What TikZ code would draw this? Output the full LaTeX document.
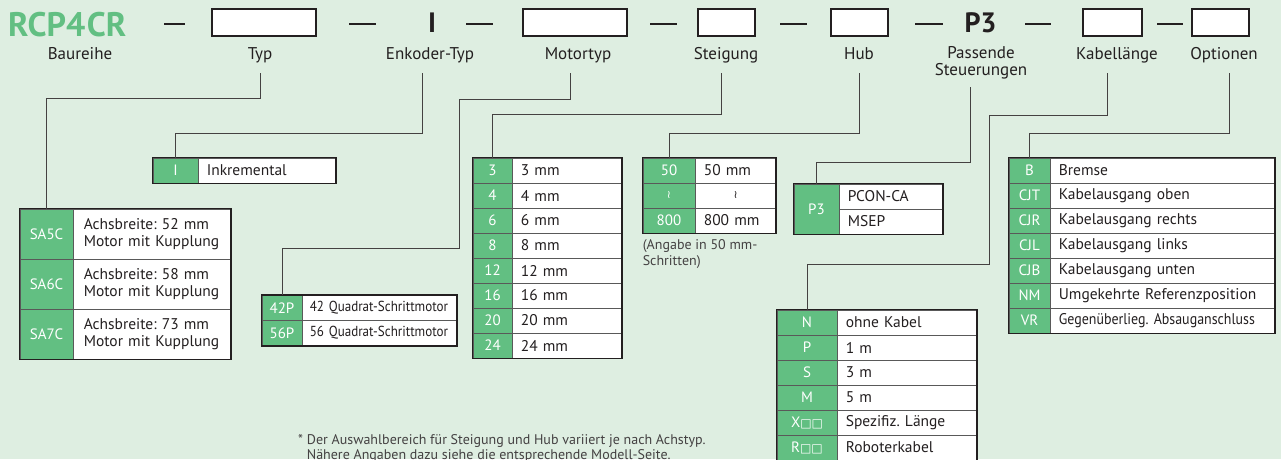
\documentclass[tikz,border=0pt]{standalone}
\usepackage{fontspec}
\setmainfont{PT Sans}
\newfontfamily\symfont{DejaVu Sans}
\newfontfamily\narrowfont[FakeStretch=0.9]{PT Sans}
\usetikzlibrary{positioning,calc}
\definecolor{bground}{RGB}{222,238,225}
\definecolor{codegreen}{RGB}{98,191,130}
\definecolor{textdark}{RGB}{35,31,32}
\newcommand{\twoboxes}{{\symfont\fontsize{12}{12}\selectfont □□}}
\frenchspacing

\tikzset{
  series/.style={font=\fontsize{34}{34}\selectfont\bfseries, text=codegreen, inner sep=0},
  fixcode/.style={font=\fontsize{28}{28}\selectfont\bfseries, text=textdark, inner sep=0},
  hdrbox/.style={draw=textdark, line width=1.2pt, fill=white, minimum width=#1, minimum height=27, inner sep=0},
  hdrdash/.style={draw=textdark, line width=1.2pt},
  hdrlbl/.style={font=\fontsize{17}{17}\selectfont, text=textdark, align=center, inner sep=0, anchor=base},
  gcell/.style={draw=black!65, line width=0.8pt, fill=codegreen, text=white, font=\fontsize{15}{17}\selectfont, minimum width=#1, minimum height=25, inner sep=0},
  wcell/.style={draw=black!65, line width=0.8pt, fill=white, text=textdark, font=\fontsize{15.5}{17}\selectfont, minimum height=25, text width=#1, align=left, inner xsep=8pt, inner ysep=0, anchor=west},
  frame/.style={draw=textdark, line width=1.5pt},
  conn/.style={draw=textdark!85, line width=1pt},
  note/.style={font=\fontsize{14}{15.5}\selectfont, text=textdark!85, align=left, inner sep=0}
}

\begin{document}
\begin{tikzpicture}[x=1pt, y=-1pt]
\fill[bground] (0,0) rectangle (1281,459);
\useasboundingbox (0,0) rectangle (1281,459);
\coordinate (top) at (0,73);
\coordinate (top2) at (0,87);

% model code row
\node[series, anchor=base west] (series) at (8,36) {RCP4\kern1.5pt CR};
\node[hdrbox=104] (typbox) at (264,22.5) {};
\node[fixcode, anchor=base] (enccode) at (432,32) {I};
\node[hdrbox=104] (motbox) at (575,22.5) {};
\node[hdrbox=57] (steigbox) at (726.5,22.5) {};
\node[hdrbox=57] (hubbox) at (859.5,22.5) {};
\node[fixcode, anchor=base] (ctrlcode) at (980.5,32) {P3};
\node[hdrbox=59] (kabbox) at (1112.5,22.5) {};
\node[hdrbox=57] (optbox) at (1220.5,22.5) {};
\foreach \xa/\xb in {164/185, 349/376, 466/493, 650/677, 780/807, 915/943, 1025/1051, 1157/1183}
  \draw[hdrdash] (\xa,24) -- (\xb,24);

% labels
\node[hdrlbl] (serlbl) at (80,59) {Baureihe};
\node[hdrlbl] (typlbl) at (260,59) {Typ};
\node[hdrlbl] (enclbl) at (430,59) {Enkoder-Typ};
\node[hdrlbl] (motlbl) at (578,59) {Motortyp};
\node[hdrlbl] (steiglbl) at (726,59) {Steigung};
\node[hdrlbl] (hublbl) at (859,59) {Hub};
\node[hdrlbl, anchor=north] (ctrllbl) at (981,46) {Passende\\Steuerungen};
\node[hdrlbl] (kablbl) at (1117,59) {Kabellänge};
\node[hdrlbl] (optlbl) at (1224,59) {Optionen};

% Typ
\foreach \cd/\breite [count=\i] in {SA5C/52, SA6C/58, SA7C/73} {
  \node[gcell=53, minimum height=50] (typ-c\i) at (46.5,184+50*\i) {\cd};
  \node[wcell=137pt, inner xsep=10pt, minimum height=50] (typ-t\i) at (typ-c\i.east) {Achsbreite: \breite~mm\\Motor mit Kupplung};
}
\draw[frame] (typ-c1.north west) rectangle (typ-t3.south east);

% Enkoder
\node[gcell=45] (ink-c) at (175.5,170.5) {I};
\node[wcell=121pt] (ink-t) at (ink-c.east) {Inkremental};
\draw[frame] (ink-c.north west) rectangle (ink-t.south east);

% Motor
\foreach \cd [count=\i] in {42, 56} {
  \node[gcell=40] (mot-c\i) at (282,283+25*\i) {\cd P};
  \node[wcell=140pt, inner xsep=7pt, font=\narrowfont\fontsize{14.5}{16}\selectfont] (mot-t\i) at (mot-c\i.east) {\mbox{\cd\ Quadrat-Schrittmotor}};
}
\draw[frame] (mot-c1.north west) rectangle (mot-t2.south east);

% Steigung
\foreach \cd [count=\i] in {3, 4, 6, 8, 12, 16, 20, 24} {
  \node[gcell=39] (lead-c\i) at (492.5,145.5+25*\i) {\cd};
  \node[wcell=93pt] (lead-t\i) at (lead-c\i.east) {\cd\ mm};
}
\draw[frame] (lead-c1.north west) rectangle (lead-t8.south east);

% Hub
\node[gcell=52] (hub-c1) at (669,170.5) {50};
\node[wcell=64pt] (hub-t1) at (hub-c1.east) {50 mm};
\node[gcell=52] (hub-c2) at (669,195.5) {\symfont\fontsize{11}{11}\selectfont ≀};
\node[wcell=64pt, align=center] (hub-t2) at (hub-c2.east) {\symfont\fontsize{11}{11}\selectfont ≀};
\node[gcell=52] (hub-c3) at (669,220.5) {800};
\node[wcell=64pt] (hub-t3) at (hub-c3.east) {800 mm};
\draw[frame] (hub-c1.north west) rectangle (hub-t3.south east);
\node[note, anchor=north west] (hubnote) at ([yshift=-6pt]hub-c3.south west) {(Angabe in 50 mm-\\Schritten)};

% Steuerungen
\node[gcell=45, minimum height=50] (ctrl-c) at (816.5,209) {P3};
\node[wcell=87pt] (ctrl-t1) at ([yshift=12.5pt]ctrl-c.east) {PCON-CA};
\node[wcell=87pt] (ctrl-t2) at ([yshift=-12.5pt]ctrl-c.east) {MSEP};
\draw[frame] (ctrl-c.north west) rectangle (ctrl-t2.south east);

% Kabel
\foreach \cd/\tx [count=\i] in {N/ohne Kabel, P/1 m, S/3 m, M/5 m, {X\twoboxes}/Spezifiz. Länge, {R\twoboxes}/Roboterkabel} {
  \node[gcell=60] (cab-c\i) at (807,297.5+25*\i) {\cd};
  \node[wcell=123pt] (cab-t\i) at (cab-c\i.east) {\tx};
}
\draw[frame] (cab-c1.north west) rectangle (cab-t6.south east);

% Optionen
\foreach \cd/\tx [count=\i] in {B/Bremse, CJT/Kabelausgang oben, CJR/Kabelausgang rechts, CJL/Kabelausgang links, CJB/Kabelausgang unten, NM/Umgekehrte Referenzposition, VR/{\mbox{\narrowfont Gegenüberlieg. Absauganschluss}}} {
  \node[gcell=41] (opt-c\i) at (1029.5,145.5+25*\i) {\cd};
  \node[wcell=208pt] (opt-t\i) at (opt-c\i.east) {\tx};
}
\draw[frame] (opt-c1.north west) rectangle (opt-t7.south east);

% connectors
\draw[conn] (typlbl |- top) -- ++(0,25) -| (typ-c1.north);
\draw[conn] ([xshift=-8pt]enclbl |- top) -- ++(0,60) -| (ink-c.north);
\draw[conn] ([xshift=-8pt]motlbl |- top) -- ++(0,26) -- ++(-111,0) -- ++(0,149) -| (mot-c1.north);
\draw[conn] ([xshift=-5pt]steiglbl |- top) -- ++(0,41) -| (lead-c1.north);
\draw[conn] (hublbl |- top) -- ++(0,60) -| (hub-c1.north);
\draw[conn] ([xshift=-11pt]ctrllbl |- top2) -- ++(0,75) -| (ctrl-c.north);
\draw[conn] ([xshift=-10pt]kablbl |- top) -- ++(0,42) -- ++(-118,0) -- ++(0,149) -| (cab-c1.north);
\draw[conn] ([xshift=5pt]optlbl |- top) -- ++(0,60) -| (opt-c1.north);

% footnote
\node[note, anchor=north west] (footnote) at (298,434) {* Der Auswahlbereich für Steigung und Hub variiert je nach Achstyp.\\\phantom{*} Nähere Angaben dazu siehe die entsprechende Modell-Seite.};
\end{tikzpicture}
\end{document}
